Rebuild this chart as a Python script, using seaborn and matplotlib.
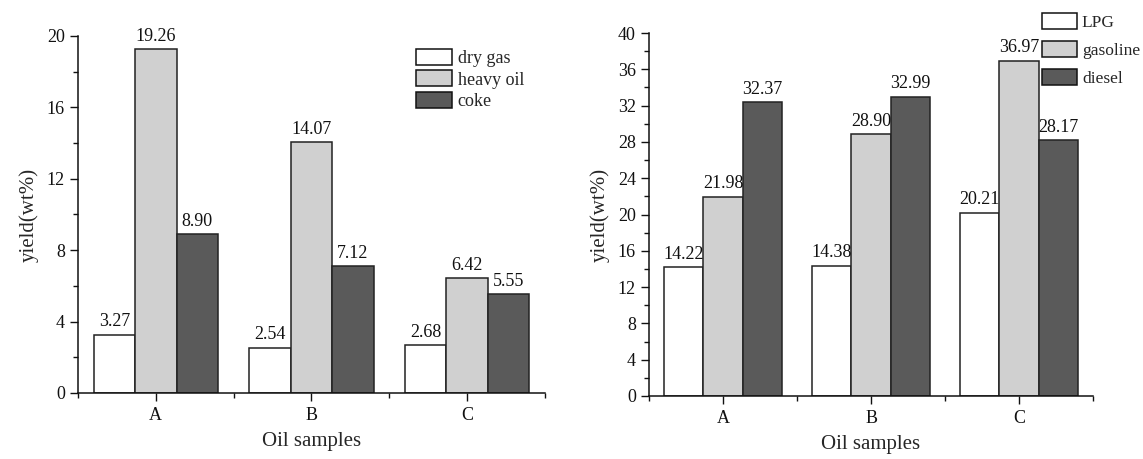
import pandas as pd
import matplotlib
matplotlib.use('Agg')
import matplotlib.pyplot as plt
import seaborn as sns
from matplotlib.ticker import MultipleLocator, FixedLocator

# ── Data ──────────────────────────────────────────────────────────────────────
samples = ['A', 'B', 'C']

gas_products = ['dry gas', 'heavy oil', 'coke']
dry_gas = [3.27, 2.54, 2.68]
heavy_oil = [19.26, 14.07, 6.42]
coke = [8.90, 7.12, 5.55]

liquid_products = ['LPG', 'gasoline', 'diesel']
lpg = [14.22, 14.38, 20.21]
gasoline = [21.98, 28.90, 36.97]
diesel = [32.37, 32.99, 28.17]

colors = ['#ffffff', '#d0d0d0', '#5a5a5a']

left_df = pd.DataFrame({
    'sample': samples * 3,
    'product': [p for p in gas_products for _ in samples],
    'yield': dry_gas + heavy_oil + coke,
})
right_df = pd.DataFrame({
    'sample': samples * 3,
    'product': [p for p in liquid_products for _ in samples],
    'yield': lpg + gasoline + diesel,
})

# ── Style ─────────────────────────────────────────────────────────────────────
sns.set_theme(style='ticks')
plt.rcParams['font.family'] = ['Liberation Serif', 'DejaVu Serif']
plt.rcParams['font.size'] = 13

fig = plt.figure(figsize=(11.43, 4.59), dpi=100)
ax1 = fig.add_axes([0.0682, 0.1438, 0.4086, 0.7778])
ax2 = fig.add_axes([0.5678, 0.1373, 0.3885, 0.7907])


def draw_panel(ax, df, order, ymax, ystep, legend_xy, label_gap, legend_size):
    sns.barplot(data=df, x='sample', y='yield', hue='product', hue_order=order,
                palette=colors, edgecolor='#222222', linewidth=1.1,
                width=0.8, errorbar=None, ax=ax)
    for c in ax.containers:
        ax.bar_label(c, fmt='%.2f', padding=3, fontsize=13, color='#111111')

    ax.set_xlim(-0.5, 2.5)
    ax.set_ylim(0, ymax)
    ax.yaxis.set_major_locator(MultipleLocator(ystep))
    ax.yaxis.set_minor_locator(MultipleLocator(ystep / 2))
    ax.xaxis.set_minor_locator(FixedLocator([-0.5, 0.5, 1.5, 2.5]))
    ax.tick_params(axis='both', which='major', direction='out', length=6,
                   width=1, colors='#111111', labelsize=13)
    ax.tick_params(axis='both', which='minor', direction='out', length=3.5,
                   width=1, colors='#111111')
    ax.tick_params(axis='x', which='major', pad=4)
    for side in ['top', 'right']:
        ax.spines[side].set_visible(False)
    for side in ['left', 'bottom']:
        ax.spines[side].set_linewidth(1.1)
        ax.spines[side].set_color('#111111')

    ax.set_xlabel('Oil samples', fontsize=15, labelpad=6)
    ax.set_ylabel('yield(wt%)', fontsize=15, labelpad=6)

    handles, labels = ax.get_legend_handles_labels()
    ax.get_legend().remove()
    leg = ax.legend(handles, labels, loc='upper left',
                    bbox_to_anchor=legend_xy, bbox_transform=fig.transFigure,
                    frameon=False, fontsize=legend_size, borderpad=0,
                    borderaxespad=0, handlelength=2.0, handleheight=1.0,
                    handletextpad=0.3, labelspacing=label_gap)
    for h in leg.legend_handles:
        h.set_edgecolor('#111111')
        h.set_linewidth(1.1)


draw_panel(ax1, left_df, gas_products, 20, 4, (416 / 1143, 1 - 49 / 459), 0.17, 13)
draw_panel(ax2, right_df, liquid_products, 40, 4, (1042 / 1143, 1 - 13 / 459), 0.6, 12.5)

fig.savefig('out.png', dpi=100)
